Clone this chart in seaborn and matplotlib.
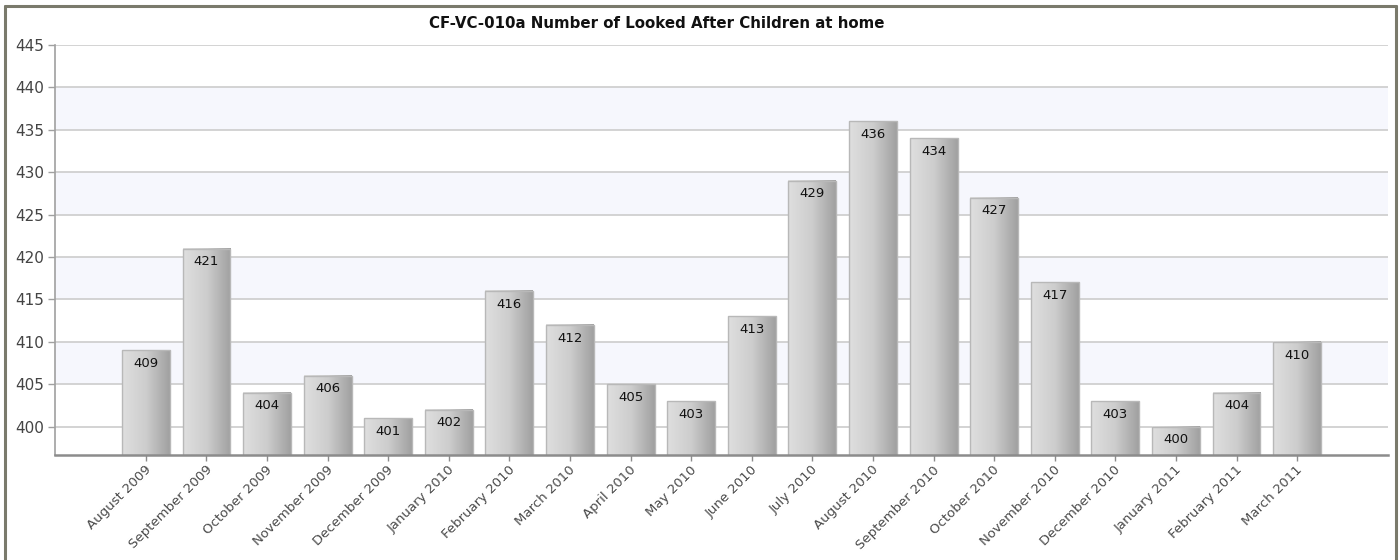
import numpy as np
import pandas as pd
import matplotlib
matplotlib.use("Agg")
import matplotlib.pyplot as plt
import matplotlib.transforms as mtransforms
from matplotlib.lines import Line2D
import seaborn as sns

# ---- data ----
months = ["August 2009", "September 2009", "October 2009", "November 2009",
          "December 2009", "January 2010", "February 2010", "March 2010",
          "April 2010", "May 2010", "June 2010", "July 2010", "August 2010",
          "September 2010", "October 2010", "November 2010", "December 2010",
          "January 2011", "February 2011", "March 2011"]
values = [409, 421, 404, 406, 401, 402, 416, 412, 405, 403, 413, 429, 436,
          434, 427, 417, 403, 400, 404, 410]
y_ticks = [400, 405, 410, 415, 420, 425, 430, 435, 440, 445]
title = "CF-VC-010a Number of Looked After Children at home"

df = pd.DataFrame({"month": months, "value": values})

sns.set_theme(style="white")
plt.rcParams["font.family"] = ["DejaVu Sans"]

fig = plt.figure(figsize=(14, 5.6), dpi=100)
ax = fig.add_axes([55 / 1400, 105 / 560, (1388 - 55) / 1400, (455 - 45) / 560])

sns.barplot(data=df, x="month", y="value", ax=ax, width=0.79,
            color="#c0c0c0", edgecolor="#b8b8b8", linewidth=1.0, zorder=3)
bars = list(ax.patches)

ylo, yhi = 396.66, 445
xlo, xhi = -1.5, len(months) + 0.5

# alternating bands
for i in range(len(y_ticks) - 1):
    if i % 2 == 1:
        ax.axhspan(y_ticks[i], y_ticks[i + 1], color="#f6f7fd", zorder=0, lw=0)
for t in y_ticks:
    ax.axhline(t, color="#cccccc", lw=1.2, zorder=1)

# gradient bars
grad = np.linspace(0, 1, 256).reshape(1, -1)
cmap = matplotlib.colors.LinearSegmentedColormap.from_list(
    "g", ["#dfdfdf", "#cdcdcd", "#a0a0a0"])
for p in bars:
    bb = p.get_bbox()
    ax.imshow(grad, extent=[bb.x0, bb.x1, ylo, bb.y1], aspect="auto",
              cmap=cmap, zorder=2.5, interpolation="bilinear")
    p.set_facecolor("none")

ax.set_xlim(xlo, xhi)
ax.set_ylim(ylo, yhi)
ax.set_yticks(y_ticks)
ax.set_xlabel("")
ax.set_ylabel("")

# value labels
for x, v in enumerate(values):
    ax.annotate(f"{v}", (x, v), xytext=(0, -9.5), textcoords="offset points",
                ha="center", va="center", fontsize=9.5, color="#111111",
                zorder=5)

# spines / ticks
for s in ["top", "right"]:
    ax.spines[s].set_visible(False)
ax.spines["left"].set_color("#a0a0a0")
ax.spines["left"].set_linewidth(1.2)
ax.spines["bottom"].set_color("#8c8c8c")
ax.spines["bottom"].set_linewidth(1.8)
ax.spines["bottom"].set_zorder(6)
ax.tick_params(axis="y", left=True, length=5, width=1, color="#a0a0a0",
               labelsize=11, labelcolor="#444444", pad=3)
ax.tick_params(axis="x", bottom=True, length=4, width=1, color="#8c8c8c",
               labelsize=9.5, labelcolor="#4a4a4a", pad=2)

offset = mtransforms.ScaledTranslation(8 / 100, 0, fig.dpi_scale_trans)
for lab in ax.get_xticklabels():
    lab.set_rotation(45)
    lab.set_ha("right")
    lab.set_transform(lab.get_transform() + offset)

fig.text(657 / 1400, 1 - 23 / 560, title, ha="center", va="center",
         fontsize=10.8, fontweight="bold", color="#111111")

# outer frame
fc = "#7a7a6c"
fig.add_artist(Line2D([5 / 1400, 1396 / 1400], [1 - 6 / 560, 1 - 6 / 560],
                      transform=fig.transFigure, color=fc, lw=2.2))
fig.add_artist(Line2D([5 / 1400, 5 / 1400], [0, 1 - 6 / 560],
                      transform=fig.transFigure, color=fc, lw=2.2))
fig.add_artist(Line2D([1396 / 1400, 1396 / 1400], [0, 1 - 6 / 560],
                      transform=fig.transFigure, color=fc, lw=2.2))

fig.savefig("out.png", dpi=100)
